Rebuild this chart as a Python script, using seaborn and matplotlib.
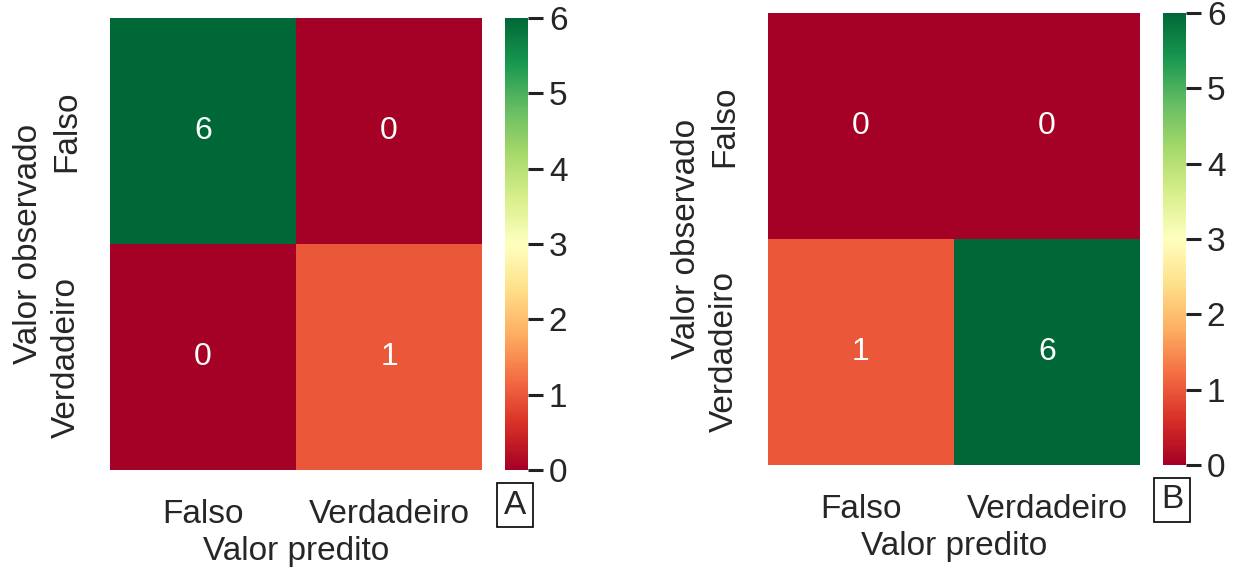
import matplotlib
matplotlib.use("Agg")
import matplotlib.pyplot as plt
import seaborn as sns
import numpy as np

sns.set_theme(style="white")
plt.rcParams["font.family"] = ["Liberation Sans", "DejaVu Sans"]

labels = ["Falso", "Verdadeiro"]
matrix_a = [[6, 0], [0, 1]]
matrix_b = [[0, 0], [1, 6]]
panel_tags = ["A", "B"]

fig = plt.figure(figsize=(12.35, 5.69), dpi=100)
W, H = 1235, 569
FS = 24

def box(x0, y0, x1, y1):
    return [x0 / W, 1 - y1 / H, (x1 - x0) / W, (y1 - y0) / H]

layouts = [
    (box(110, 18, 482, 470), box(505, 18, 528, 470), (515, 505)),
    (box(768, 13, 1140, 465), box(1163, 13, 1186, 465), (1172, 500)),
]

for mat, tag, (axpos, cbpos, tagpos) in zip([matrix_a, matrix_b], panel_tags, layouts):
    ax = fig.add_axes(axpos)
    cax = fig.add_axes(cbpos)
    sns.heatmap(np.array(mat), ax=ax, cbar_ax=cax, cmap="RdYlGn", vmin=0, vmax=6,
                annot=True, fmt="d", annot_kws={"fontsize": 23, "color": "white"},
                xticklabels=labels, yticklabels=labels)
    ax.tick_params(axis="x", length=0, labelsize=FS, pad=21)
    ax.tick_params(axis="y", length=0, labelsize=FS, pad=20)
    ax.set_yticklabels(labels, rotation=90, va="center")
    ax.set_xlabel("Valor predito", fontsize=FS, labelpad=4)
    ax.set_ylabel("Valor observado", fontsize=FS, labelpad=5)
    cax.tick_params(axis="y", length=11, width=2.2, color="#222222", labelsize=FS, pad=4)
    cax.set_yticks(range(0, 7))
    for s in cax.spines.values():
        s.set_visible(False)
    fig.text(tagpos[0] / W, 1 - tagpos[1] / H, tag, fontsize=FS, ha="center", va="center",
             bbox=dict(boxstyle="square,pad=0.2", facecolor="white", edgecolor="black", linewidth=1.2))

fig.savefig("out.png", dpi=100)
